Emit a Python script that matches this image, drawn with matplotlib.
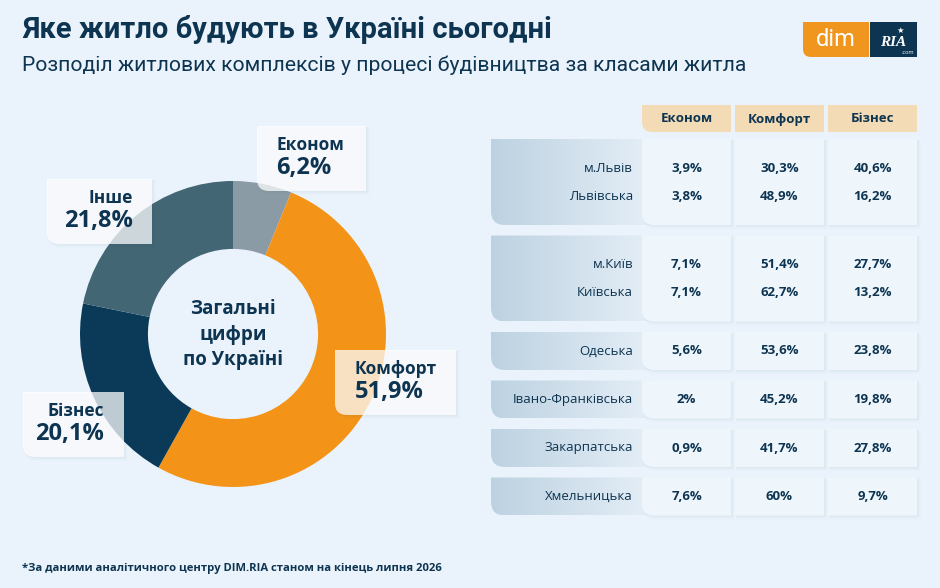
import numpy as np
import matplotlib.pyplot as plt
from matplotlib.path import Path
from matplotlib.patches import PathPatch
from matplotlib.colors import LinearSegmentedColormap

plt.rcParams['font.family'] = ['Open Sans', 'DejaVu Sans']

# --- дані ---
klasy = ['Економ', 'Комфорт', 'Бізнес', 'Інше']
chastky = [6.2, 51.9, 20.1, 21.8]
kolory = ['#8b9ba5', '#f39419', '#0b3a59', '#436675']

stovpci = ['Економ', 'Комфорт', 'Бізнес']
grupy = [['м.Львів', 'Львівська'], ['м.Київ', 'Київська'], ['Одеська'],
         ['Івано-Франківська'], ['Закарпатська'], ['Хмельницька']]
ekonom = [3.9, 3.8, 7.1, 7.1, 5.6, 2, 0.9, 7.6]
komfort = [30.3, 48.9, 51.4, 62.7, 53.6, 45.2, 41.7, 60]
biznes = [40.6, 16.2, 27.7, 13.2, 23.8, 19.8, 27.8, 9.7]

W, H = 940, 588
FON = '#eaf3fb'
NAVY = '#0d3451'


def vidsotok(v):
    return f'{v:g}'.replace('.', ',') + '%'


def kontur(x0, y0, x1, y1, r=10):
    # прямокутник із заокругленим нижнім лівим кутом (вісь y вниз)
    verts = [(x0, y0), (x1, y0), (x1, y1), (x0 + r, y1), (x0, y1), (x0, y1 - r), (x0, y0)]
    codes = [Path.MOVETO, Path.LINETO, Path.LINETO, Path.LINETO,
             Path.CURVE3, Path.CURVE3, Path.CLOSEPOLY]
    return Path(verts, codes)


def plashka(ax, x0, y0, x1, y1, color, alpha=1.0, r=10, ten=True, z=2):
    if ten:
        for k, a in [(4, 0.012), (2.5, 0.02), (1.2, 0.03)]:
            ax.add_patch(PathPatch(kontur(x0 + 1, y0 + 1, x1 + k, y1 + k, r),
                                   fc='#28506e', ec='none', alpha=a, zorder=z))
    p = PathPatch(kontur(x0, y0, x1, y1, r), fc=color, ec='none', alpha=alpha, zorder=z + 0.1)
    ax.add_patch(p)
    return p


fig = plt.figure(figsize=(W / 100, H / 100), dpi=100, facecolor=FON)

# --- кільцева діаграма ---
cx, cy, R = 233, 334, 153
ax_pie = fig.add_axes([(cx - R) / W, (H - cy - R) / H, 2 * R / W, 2 * R / H], zorder=1)
ax_pie.pie(chastky, colors=kolory, startangle=90, counterclock=False, radius=1,
           wedgeprops=dict(width=0.444, edgecolor='none'))
ax_pie.set_xlim(-1, 1)
ax_pie.set_ylim(-1, 1)
ax_pie.set_aspect('equal')
ax_pie.axis('off')
ax_pie.patch.set_alpha(0)

ax = fig.add_axes([0, 0, 1, 1], zorder=2)
ax.set_autoscale_on(False)
ax.set_xlim(0, W)
ax.set_ylim(H, 0)
ax.axis('off')
ax.patch.set_alpha(0)

for ty, tekst in zip([309, 335, 360], ['Загальні', 'цифри', 'по Україні']):
    ax.text(cx, ty, tekst, ha='center', va='center', fontsize=13.5, fontweight='bold', color=NAVY)

# підписи сегментів: (x0, y0, x1, y1, x тексту, вирівнювання)
pidpysy = [(257, 126, 366, 191, 276, 'left'),
           (335, 350, 456, 415, 355, 'left'),
           (23, 392, 124, 457, 104, 'right'),
           (47, 179, 152, 244, 133, 'right')]
for (x0, y0, x1, y1, tx, ha), nazva, v in zip(pidpysy, klasy, chastky):
    plashka(ax, x0, y0, x1, y1, 'white', alpha=0.74, r=12)
    ax.text(tx, y0 + 19, nazva, ha=ha, va='center', fontsize=12.5, fontweight='bold', color=NAVY, zorder=4)
    ax.text(tx, y0 + 42, vidsotok(v), ha=ha, va='center', fontsize=17, fontweight='bold', color=NAVY, zorder=4)

# --- заголовок ---
ax.text(22, 30, 'Яке житло будують в Україні сьогодні', ha='left', va='center',
        fontsize=21, fontweight='bold', color=NAVY, family=['Roboto', 'DejaVu Sans'])
ax.text(22, 65, 'Розподіл житлових комплексів у процесі будівництва за класами житла', ha='left',
        va='center', fontsize=15.2, color=NAVY, family=['Roboto', 'DejaVu Sans'])

# логотип
plashka(ax, 803, 22, 869, 57, '#f0961e', r=8, ten=False)
ax.add_patch(PathPatch(kontur(870, 22, 917, 57, 0), fc='#0d3451', ec='none', zorder=2))
ax.text(836, 40, 'dim', ha='center', va='center', fontsize=17, color='white',
        family=['Roboto', 'DejaVu Sans'], zorder=4)
ax.text(893, 42, 'RIA', ha='center', va='center', fontsize=11, fontweight='bold', fontstyle='italic',
        color='white', family=['Liberation Serif', 'DejaVu Serif'], zorder=4)
ax.text(908, 53, '.com', ha='center', va='center', fontsize=4, color='white', zorder=4)
ax.text(900, 31, '★', ha='center', va='center', fontsize=6, color='white', zorder=4)

# --- таблиця ---
kol_x = [(642, 731), (735, 824), (828, 917)]
for (x0, x1), nazva in zip(kol_x, stovpci):
    r = 10 if x0 == 642 else 0
    plashka(ax, x0, 105, x1, 132, '#f3dcb5', r=r, ten=False)
    ax.text((x0 + x1) / 2, 119, nazva, ha='center', va='center', fontsize=9.5,
            fontweight='bold', color=NAVY, zorder=4)

gradient = LinearSegmentedColormap.from_list('panel', ['#bdd2e1', '#e4eef7'])
znachennia = list(zip(ekonom, komfort, biznes))
y = 139
i = 0
for g in grupy:
    h = 86 if len(g) == 2 else 38
    y0, y1 = y, y + h
    # ліва панель з градієнтом
    p = plashka(ax, 491, y0, 650, y1, 'none', r=14, ten=False)
    im = ax.imshow(np.linspace(0, 1, 256).reshape(1, -1), cmap=gradient, aspect='auto',
                   extent=(491, 650, y1, y0), zorder=1.5)
    im.set_clip_path(p)
    for (x0, x1) in kol_x:
        r = 12 if x0 == 642 else 0
        plashka(ax, x0, y0, x1, y1, '#eef6fc', r=r)
    if len(g) == 2:
        ryadky_y = [y0 + 29, y0 + 57]
    else:
        ryadky_y = [(y0 + y1) / 2]
    for ry, nazva in zip(ryadky_y, g):
        ax.text(633, ry, nazva, ha='right', va='center', fontsize=9.5, color=NAVY, zorder=4)
        for (x0, x1), v in zip(kol_x, znachennia[i]):
            ax.text((x0 + x1) / 2, ry, vidsotok(v), ha='center', va='center', fontsize=9.5,
                    fontweight='bold', color=NAVY, zorder=4)
        i += 1
    y = y1 + 10.5

ax.text(22, 568, '*За даними аналітичного центру DIM.RIA станом на кінець липня 2026', ha='left',
        va='center', fontsize=8.1, fontweight='bold', color=NAVY)

fig.savefig('out.png', dpi=100, facecolor=FON)
